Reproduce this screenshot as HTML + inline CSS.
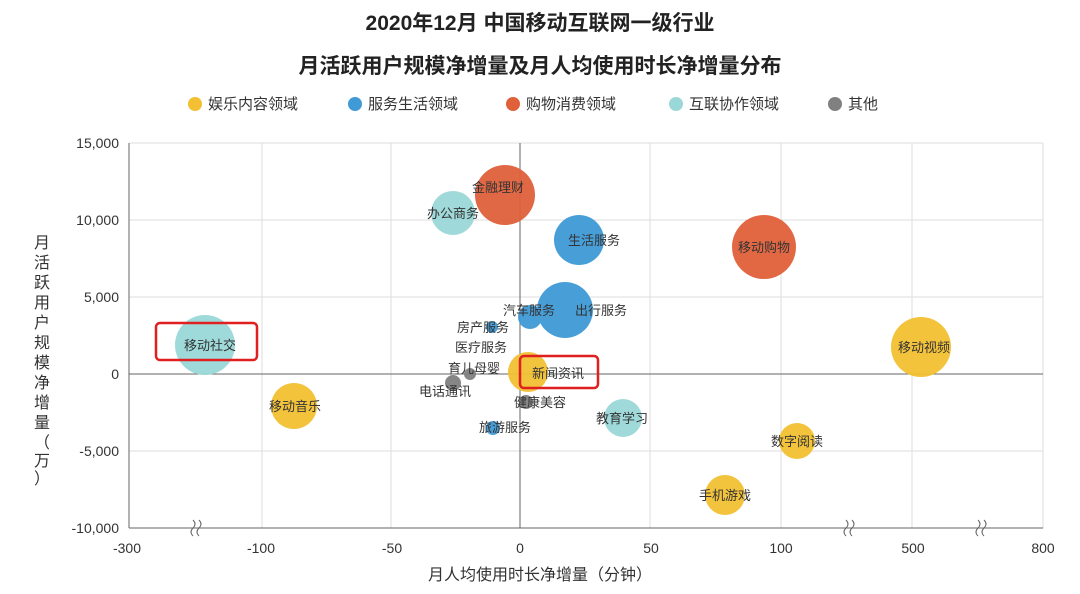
<!DOCTYPE html>
<html><head><meta charset="utf-8"><style>
body{margin:0;width:1080px;height:589px;background:#fff;overflow:hidden;font-family:"Liberation Sans","Noto Sans CJK SC",sans-serif}
</style></head><body>
<svg width="1080" height="589" xmlns="http://www.w3.org/2000/svg" font-family="Liberation Sans, Noto Sans CJK SC, sans-serif">
<text x="540" y="30" font-size="21" font-weight="bold" text-anchor="middle" fill="#222">2020年12月 中国移动互联网一级行业</text>
<text x="540" y="73" font-size="21" font-weight="bold" text-anchor="middle" fill="#222">月活跃用户规模净增量及月人均使用时长净增量分布</text>
<g font-size="15" fill="#333">
<circle cx="195" cy="104" r="7" fill="#f2c032"/><text x="208" y="109">娱乐内容领域</text>
<circle cx="355" cy="104" r="7" fill="#3f9ad6"/><text x="368" y="109">服务生活领域</text>
<circle cx="513" cy="104" r="7" fill="#e0603a"/><text x="526" y="109">购物消费领域</text>
<circle cx="676" cy="104" r="7" fill="#9ad8d8"/><text x="689" y="109">互联协作领域</text>
<circle cx="835" cy="104" r="7" fill="#808080"/><text x="848" y="109">其他</text>
</g>
<g stroke="#ddd" stroke-width="1">
<line x1="129" y1="143" x2="1043" y2="143"/><line x1="129" y1="220" x2="1043" y2="220"/><line x1="129" y1="297" x2="1043" y2="297"/><line x1="129" y1="451" x2="1043" y2="451"/>
<line x1="262" y1="143" x2="262" y2="528"/><line x1="391" y1="143" x2="391" y2="528"/><line x1="650" y1="143" x2="650" y2="528"/><line x1="781" y1="143" x2="781" y2="528"/><line x1="912" y1="143" x2="912" y2="528"/><line x1="1043" y1="143" x2="1043" y2="528"/>
</g>
<g stroke="#666" stroke-width="1">
<line x1="129" y1="143" x2="129" y2="528"/><line x1="129" y1="528" x2="1043" y2="528"/><line x1="129" y1="374" x2="1043" y2="374"/><line x1="520" y1="143" x2="520" y2="528"/>
</g>
<g stroke="#666" fill="none"><path d="M193 520 q4 4 0 8 q-4 4 0 8 M199 520 q4 4 0 8 q-4 4 0 8"/><path d="M846 520 q4 4 0 8 q-4 4 0 8 M852 520 q4 4 0 8 q-4 4 0 8"/><path d="M978 520 q4 4 0 8 q-4 4 0 8 M984 520 q4 4 0 8 q-4 4 0 8"/></g>
<g font-size="14" fill="#333" text-anchor="end">
<text x="119" y="148">15,000</text><text x="119" y="225">10,000</text><text x="119" y="302">5,000</text><text x="119" y="379">0</text><text x="119" y="456">-5,000</text><text x="119" y="533">-10,000</text>
</g>
<g font-size="14" fill="#333" text-anchor="middle">
<text x="127" y="553">-300</text><text x="261" y="553">-100</text><text x="392" y="553">-50</text><text x="520" y="553">0</text><text x="651" y="553">50</text><text x="781" y="553">100</text><text x="913" y="553">500</text><text x="1043" y="553">800</text>
</g>
<text x="540" y="580" font-size="16" fill="#333" text-anchor="middle">月人均使用时长净增量（分钟）</text>
<g font-size="16" fill="#333" text-anchor="middle">
<text x="42" y="248">月</text><text x="42" y="268">活</text><text x="42" y="288">跃</text><text x="42" y="308">用</text><text x="42" y="328">户</text><text x="42" y="348">规</text><text x="42" y="368">模</text><text x="42" y="388">净</text><text x="42" y="408">增</text><text x="42" y="428">量</text><text x="42" y="448">（</text><text x="42" y="466">万</text><text x="42" y="484">）</text>
</g>
<g opacity="0.95">
<circle cx="505" cy="195" r="30" fill="#e0603a"/>
<circle cx="453" cy="213" r="22" fill="#9ad8d8"/>
<circle cx="579" cy="240" r="25" fill="#3f9ad6"/>
<circle cx="764" cy="247" r="32" fill="#e0603a"/>
<circle cx="565" cy="310" r="28" fill="#3f9ad6"/>
<circle cx="530" cy="317" r="12" fill="#3f9ad6"/>
<circle cx="492" cy="327" r="6" fill="#3f9ad6"/>
<circle cx="205" cy="345" r="30" fill="#9ad8d8"/>
<circle cx="921" cy="347" r="30" fill="#f2c032"/>
<circle cx="528" cy="372" r="20" fill="#f2c032"/>
<circle cx="470" cy="374" r="6" fill="#808080"/>
<circle cx="453" cy="383" r="8" fill="#808080"/>
<circle cx="526" cy="402" r="7" fill="#808080"/>
<circle cx="493" cy="428" r="7" fill="#3f9ad6"/>
<circle cx="294" cy="406" r="23" fill="#f2c032"/>
<circle cx="623" cy="418" r="19" fill="#9ad8d8"/>
<circle cx="797" cy="441" r="18" fill="#f2c032"/>
<circle cx="725" cy="495" r="20" fill="#f2c032"/>
</g>
<g font-size="13" fill="#333" text-anchor="middle">
<text x="498" y="192">金融理财</text><text x="453" y="218">办公商务</text><text x="594" y="245">生活服务</text><text x="764" y="252">移动购物</text>
<text x="601" y="315">出行服务</text><text x="529" y="315">汽车服务</text><text x="483" y="332">房产服务</text><text x="481" y="352">医疗服务</text>
<text x="210" y="350">移动社交</text><text x="924" y="352">移动视频</text><text x="558" y="378">新闻资讯</text><text x="474" y="373">育儿母婴</text>
<text x="445" y="396">电话通讯</text><text x="540" y="407">健康美容</text><text x="505" y="432">旅游服务</text><text x="295" y="411">移动音乐</text>
<text x="622" y="423">教育学习</text><text x="797" y="446">数字阅读</text><text x="725" y="500">手机游戏</text>
</g>
<rect x="156" y="323" width="101" height="37" rx="4" fill="none" stroke="#e02020" stroke-width="2.5"/>
<rect x="520" y="356" width="78" height="32" rx="4" fill="none" stroke="#e02020" stroke-width="2.5"/>
</svg>
</body></html>
